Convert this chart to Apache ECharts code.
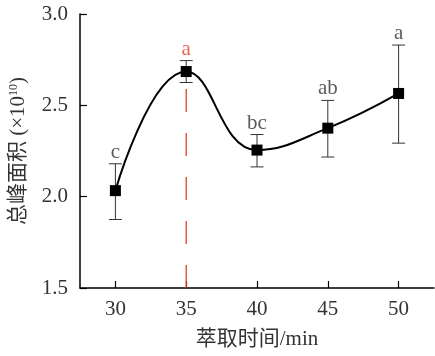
<!DOCTYPE html>
<html><head><meta charset="utf-8">
<script src="https://cdn.jsdelivr.net/npm/echarts@6/dist/echarts.min.js"></script>
<style>html,body{margin:0;padding:0;background:#fff}#c{width:435px;height:356px}</style>
</head><body><div id="c"></div>
<script>
var times = [30, 35, 40, 45, 50];
var means = [2.033, 2.685, 2.255, 2.375, 2.565];
var upper = [2.180, 2.745, 2.340, 2.527, 2.830];
var lower = [1.875, 2.625, 2.163, 2.217, 2.293];
var letters = ['c', 'a', 'bc', 'ab', 'a'];
var xTicks = [30, 35, 40, 45, 50];
var highlightTime = 35;

var serif = '"Liberation Serif", "Times New Roman", serif';
var cjk = '"Liberation Serif", "Noto Sans CJK SC", serif';
var red = '#e3402a';
var chart = echarts.init(document.getElementById('c'));

var hlIdx = times.indexOf(highlightTime);

chart.setOption({
  animation: false,
  grid: {left: 80, right: 1, top: 14, bottom: 68},
  xAxis: {
    type: 'value', min: 27.5, max: 52.5,
    name: '萃取时间/min', nameLocation: 'middle', nameGap: 41,
    nameTextStyle: {fontFamily: cjk, fontSize: 21, color: '#333'},
    axisLine: {lineStyle: {color: '#000', width: 1.5}},
    axisTick: {inside: true, length: 7, customValues: xTicks, lineStyle: {color: '#000', width: 1.2}},
    axisLabel: {customValues: xTicks, fontFamily: serif, fontSize: 21, color: '#333', margin: 11},
    splitLine: {show: false}
  },
  yAxis: {
    type: 'value', min: 1.5, max: 3.0, interval: 0.5,
    name: '总峰面积 (×10{sup|10})', nameLocation: 'middle', nameRotate: 90, nameGap: 51,
    nameTextStyle: {fontFamily: cjk, fontSize: 21, color: '#333',
      rich: {sup: {fontSize: 12, verticalAlign: 'top', fontFamily: serif, color: '#333', padding: [0,0,9,0]}}},
    axisLine: {show: true, lineStyle: {color: '#000', width: 1.5}},
    axisTick: {show: true, inside: true, length: 7, lineStyle: {color: '#000', width: 1.2}},
    axisLabel: {fontFamily: serif, fontSize: 21, color: '#333', margin: 12,
      formatter: function (v) { return v.toFixed(1); }},
    splitLine: {show: false}
  },
  series: [
    {
      type: 'line', z: 1,
      data: [[highlightTime, 1.5], [highlightTime, means[hlIdx]]],
      symbol: 'none',
      lineStyle: {color: red, width: 1.3, type: [23, 21]}
    },
    {
      type: 'custom', z: 2,
      data: times.map(function (t, i) { return [t, lower[i], upper[i]]; }),
      renderItem: function (params, api) {
        var x = api.value(0);
        var lo = api.coord([x, api.value(1)]);
        var hi = api.coord([x, api.value(2)]);
        var hw = 6.5;
        var st = {stroke: '#333', lineWidth: 1};
        return {type: 'group', children: [
          {type: 'line', shape: {x1: lo[0], y1: lo[1], x2: hi[0], y2: hi[1]}, style: st},
          {type: 'line', shape: {x1: lo[0]-hw, y1: lo[1], x2: lo[0]+hw, y2: lo[1]}, style: st},
          {type: 'line', shape: {x1: hi[0]-hw, y1: hi[1], x2: hi[0]+hw, y2: hi[1]}, style: st}
        ]};
      }
    },
    {
      type: 'line', z: 3,
      data: times.map(function (t, i) { return [t, means[i]]; }),
      smooth: 0.45,
      symbol: 'rect', symbolSize: 11,
      itemStyle: {color: '#000'},
      lineStyle: {color: '#000', width: 2}
    },
    {
      type: 'scatter', z: 4,
      data: times.map(function (t, i) {
        var d = {value: [t, upper[i]]};
        if (t === highlightTime) d.label = {color: red};
        return d;
      }),
      symbolSize: 0,
      label: {
        show: true, position: 'top', distance: 1,
        fontFamily: serif, fontSize: 21,
        formatter: function (p) { return letters[p.dataIndex]; },
        color: '#333'
      }
    }
  ]
});
</script></body></html>
